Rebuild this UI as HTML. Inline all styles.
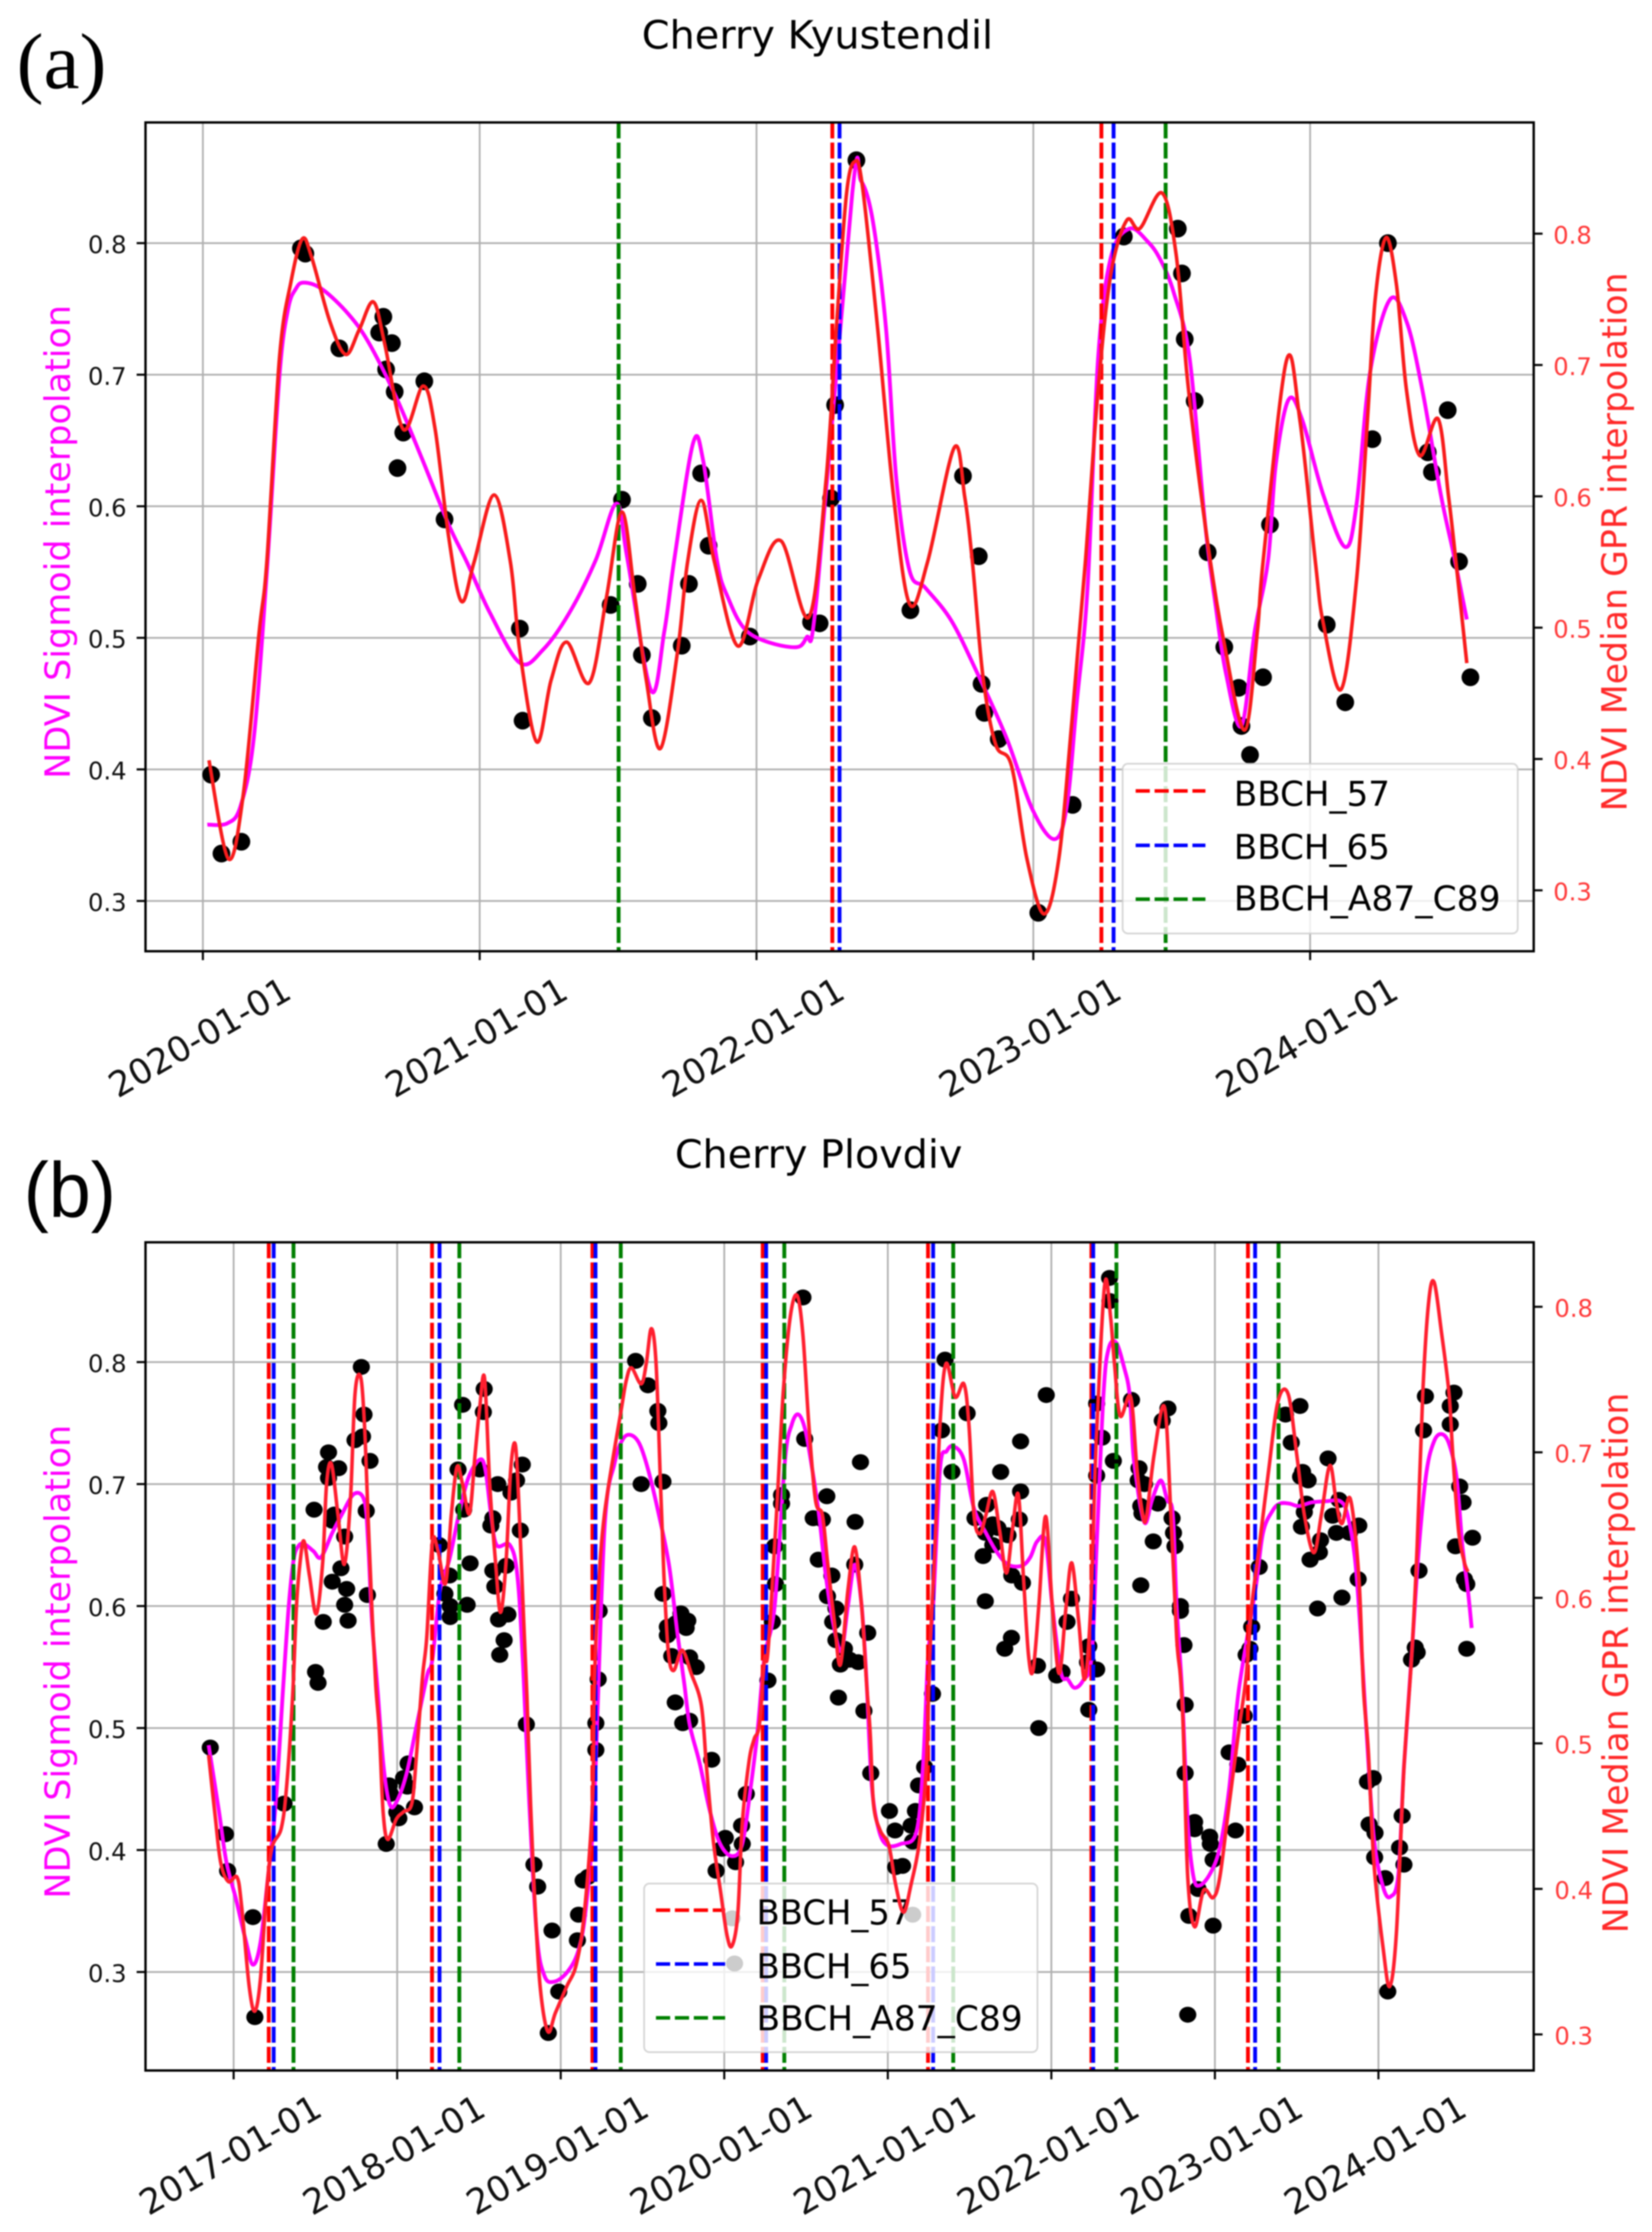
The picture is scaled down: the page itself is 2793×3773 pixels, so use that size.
<!DOCTYPE html>
<html lang="en">
<head>
<meta charset="utf-8">
<title>Cherry NDVI interpolation charts</title>
<style>
html,body{margin:0;padding:0;background:#fff;}
svg{display:block;}
text{font-family:"DejaVu Sans","Liberation Sans",sans-serif;}
</style>
</head>
<body>
<svg id="figure" xmlns="http://www.w3.org/2000/svg" width="2793" height="3773" viewBox="0 0 2793 3773" style="filter:blur(1px)">
  <rect x="0" y="0" width="2793" height="3773" fill="#fff"/>

  <g id="panelA">
    <g id="a-grid"></g>
    <g id="a-dots"></g>
    <g id="a-sigmoid"></g>
    <g id="a-vlines"></g>
    <g>
      <rect x="1898" y="1291" width="668" height="287" rx="9" fill="#fff" fill-opacity="0.8" stroke="#ccc" stroke-opacity="0.8" stroke-width="3"/>
      <line x1="1920" x2="2038" y1="1337" y2="1337" stroke="#f00" stroke-width="6" stroke-dasharray="24 8"/>
      <line x1="1920" x2="2038" y1="1429" y2="1429" stroke="#00f" stroke-width="6" stroke-dasharray="24 8"/>
      <line x1="1920" x2="2038" y1="1520" y2="1520" stroke="#008000" stroke-width="6" stroke-dasharray="24 8"/>
      <text x="2086" y="1362" font-size="58" textLength="264" lengthAdjust="spacingAndGlyphs">BBCH_57</text>
      <text x="2086" y="1452" font-size="58" textLength="264" lengthAdjust="spacingAndGlyphs">BBCH_65</text>
      <text x="2086" y="1539" font-size="58" textLength="451" lengthAdjust="spacingAndGlyphs">BBCH_A87_C89</text>
    </g>
    <g id="a-gpr"></g>
    <g id="a-axes"></g>
    <text x="1085" y="82" font-size="66" textLength="594" lengthAdjust="spacingAndGlyphs">Cherry Kyustendil</text>
    <text x="28" y="149" font-size="134" textLength="152" lengthAdjust="spacingAndGlyphs" style="font-family:'Liberation Serif',serif">(a)</text>
    <text transform="translate(118 916) rotate(-90)" text-anchor="middle" font-size="59" fill="#f0f" textLength="801" lengthAdjust="spacingAndGlyphs">NDVI Sigmoid interpolation</text>
    <text transform="translate(2750 916) rotate(-90)" text-anchor="middle" font-size="59" fill="#ff2a2a" textLength="911" lengthAdjust="spacingAndGlyphs">NDVI Median GPR interpolation</text>
  </g>

  <g id="panelB">
    <g id="b-grid"></g>
    <g id="b-dots"></g>
    <g id="b-sigmoid"></g>
    <g id="b-vlines"></g>
    <g>
      <rect x="1089" y="3184" width="665" height="285" rx="9" fill="#fff" fill-opacity="0.8" stroke="#ccc" stroke-opacity="0.8" stroke-width="3"/>
      <line x1="1109" x2="1226" y1="3229" y2="3229" stroke="#f00" stroke-width="6" stroke-dasharray="24 8"/>
      <line x1="1109" x2="1226" y1="3320" y2="3320" stroke="#00f" stroke-width="6" stroke-dasharray="24 8"/>
      <line x1="1109" x2="1226" y1="3411" y2="3411" stroke="#008000" stroke-width="6" stroke-dasharray="24 8"/>
      <text x="1279" y="3253" font-size="58" textLength="262" lengthAdjust="spacingAndGlyphs">BBCH_57</text>
      <text x="1279" y="3344" font-size="58" textLength="262" lengthAdjust="spacingAndGlyphs">BBCH_65</text>
      <text x="1279" y="3432" font-size="58" textLength="450" lengthAdjust="spacingAndGlyphs">BBCH_A87_C89</text>
    </g>
    <g id="b-gpr"></g>
    <g id="b-axes"></g>
    <text x="1141" y="1974" font-size="66" textLength="486" lengthAdjust="spacingAndGlyphs">Cherry Plovdiv</text>
    <text x="40" y="2057" font-size="132" textLength="156" lengthAdjust="spacingAndGlyphs" style="font-family:'Liberation Sans',sans-serif">(b)</text>
    <text transform="translate(118 2809) rotate(-90)" text-anchor="middle" font-size="59" fill="#f0f" textLength="801" lengthAdjust="spacingAndGlyphs">NDVI Sigmoid interpolation</text>
    <text transform="translate(2752 2811) rotate(-90)" text-anchor="middle" font-size="59" fill="#ff2a2a" textLength="914" lengthAdjust="spacingAndGlyphs">NDVI Median GPR interpolation</text>
  </g>
</svg>

<script>
// ---- shared tick values ----
const yTickValues = [0.3, 0.4, 0.5, 0.6, 0.7, 0.8];
const yTickLabels = ['0.3', '0.4', '0.5', '0.6', '0.7', '0.8'];

// ---- Panel A: Cherry Kyustendil (times are years since 2020-01-01) ----
const aXTickYears = [0, 1, 2, 3, 4];
const aXTickLabels = ['2020-01-01', '2021-01-01', '2022-01-01', '2023-01-01', '2024-01-01'];
const aBbch57 = [2.274, 3.246];
const aBbch65 = [2.30, 3.29];
const aBbchA87C89 = [1.502, 3.478];
const aDotTimes = [.03,.067,.139,.354,.37,.493,.637,.652,.683,.662,.693,.724,.703,.80,.873,1.145,1.155,1.473,1.514,1.571,1.586,1.622,1.73,1.756,1.80,1.827,1.976,2.197,2.228,2.269,2.284,2.361,2.556,2.746,2.803,2.813,2.823,2.875,3.018,3.142,3.327,3.522,3.537,3.547,3.583,3.63,3.69,3.742,3.752,3.783,3.83,3.855,4.06,4.127,4.225,4.281,4.425,4.44,4.497,4.538,4.579];
const aDotValues = [.396,.336,.345,.796,.792,.72,.732,.744,.724,.704,.687,.656,.629,.695,.59,.507,.437,.525,.605,.541,.487,.439,.494,.541,.625,.57,.501,.512,.511,.606,.677,.863,.521,.623,.562,.465,.443,.423,.291,.373,.805,.811,.777,.727,.68,.565,.493,.462,.433,.411,.47,.586,.51,.451,.651,.80,.641,.626,.673,.558,.47];
const aSigmoidTimes = [.016,.088,.136,.184,.231,.277,.308,.335,.364,.431,.526,.60,.698,.79,.888,.955,1.037,1.145,1.229,1.324,1.419,1.494,1.533,1.619,1.667,1.704,1.771,1.807,1.857,1.894,1.971,2.123,2.18,2.218,2.346,2.377,2.42,2.468,2.505,2.553,2.61,2.704,2.798,2.903,2.998,3.077,3.121,3.157,3.196,3.234,3.28,3.347,3.414,3.46,3.508,3.565,3.621,3.659,3.696,3.752,3.80,3.848,3.876,3.922,3.971,4.047,4.127,4.168,4.216,4.288,4.349,4.405,4.472,4.519,4.566];
const aSigmoidValues = [.358,.359,.372,.424,.55,.70,.75,.765,.77,.765,.746,.724,.683,.637,.586,.557,.519,.481,.491,.519,.559,.602,.561,.46,.505,.561,.648,.635,.559,.532,.504,.493,.50,.532,.838,.8475,.817,.735,.621,.551,.538,.513,.473,.424,.369,.347,.372,.451,.538,.712,.789,.811,.801,.787,.762,.712,.586,.524,.473,.433,.505,.559,.632,.681,.666,.609,.569,.602,.701,.757,.74,.689,.609,.563,.514];
const aGprTimes = [.022,.092,.146,.203,.231,.277,.318,.359,.393,.459,.516,.565,.616,.657,.724,.796,.839,.888,.934,.98,1.052,1.111,1.145,1.206,1.258,1.314,1.396,1.458,1.514,1.561,1.602,1.653,1.715,1.751,1.80,1.848,1.933,2.007,2.089,2.189,2.251,2.288,2.325,2.355,2.382,2.438,2.495,2.553,2.618,2.714,2.752,2.78,2.818,2.864,2.921,2.977,3.039,3.092,3.139,3.188,3.234,3.28,3.337,3.385,3.465,3.516,3.555,3.593,3.64,3.687,3.763,3.809,3.83,3.914,3.963,4.019,4.047,4.112,4.168,4.207,4.235,4.274,4.312,4.348,4.396,4.462,4.50,4.527,4.566];
const aGprValues = [.399,.324,.373,.496,.55,.706,.763,.796,.782,.733,.708,.727,.748,.716,.651,.684,.651,.569,.52,.55,.601,.55,.482,.413,.46,.489,.458,.523,.588,.523,.46,.408,.482,.55,.597,.55,.486,.537,.566,.508,.612,.727,.83,.855,.837,.727,.60,.518,.55,.637,.60,.55,.463,.411,.395,.324,.282,.324,.428,.55,.681,.769,.81,.804,.831,.784,.693,.623,.55,.491,.422,.496,.55,.703,.658,.55,.504,.453,.537,.658,.75,.797,.761,.681,.631,.659,.60,.55,.473];

// ---- Panel B: Cherry Plovdiv (times are years since 2017-01-01) ----
const bXTickYears = [0, 1, 2, 3, 4, 5, 6, 7];
const bXTickLabels = ['2017-01-01', '2018-01-01', '2019-01-01', '2020-01-01', '2021-01-01', '2022-01-01', '2023-01-01', '2024-01-01'];
const bBbch57 = [.215, 1.213, 2.194, 3.235, 4.246, 5.245, 6.202];
const bBbch65 = [.245, 1.259, 2.2125, 3.256, 4.277, 5.256, 6.246];
const bBbchA87C89 = [.366, 1.38, 2.367, 3.367, 4.40, 5.398, 6.389];
const bDotTimes = [.781,.797,.788,.742,.834,.58,.568,.642,.58,.492,.615,.603,.679,.811,.656,.603,.691,.679,.818,.548,.70,.501,.516,1.40,1.532,1.527,1.372,1.504,1.407,1.615,1.765,1.73,1.696,1.585,1.573,1.753,1.257,1.32,1.292,1.324,1.324,1.446,1.428,1.585,1.666,1.597,1.62,1.677,1.654,1.627,-.143,-.05,-.037,.118,.13,.308,.933,.951,.958,1.067,1.039,1.062,.998,1.01,1.106,1.79,1.836,1.859,1.947,1.988,1.924,2.109,2.102,2.137,2.167,2.215,2.215,2.229,2.235,2.458,2.533,2.594,2.60,2.492,2.625,2.625,2.735,2.777,2.652,2.663,2.704,2.767,2.652,2.679,2.788,2.829,2.70,2.746,2.788,2.923,3.135,3.106,3.11,3.006,2.985,3.069,2.95,3.048,3.063,4.152,3.308,3.313,3.294,3.267,3.35,3.35,3.481,3.492,3.627,3.833,3.80,3.544,3.60,3.575,3.798,3.658,3.631,3.683,3.663,3.683,3.877,3.735,3.71,3.819,3.767,3.698,3.854,3.896,4.01,4.169,4.044,4.142,4.152,4.225,4.188,4.09,4.048,4.273,4.35,4.329,4.485,4.392,4.812,4.969,4.69,4.812,4.604,4.533,4.642,4.673,4.596,4.804,4.735,4.642,4.583,4.758,4.823,4.596,4.756,4.715,4.915,5.123,5.096,5.033,5.065,4.923,5.229,5.221,5.277,5.229,5.356,5.358,5.277,5.31,5.379,5.277,5.49,5.713,5.678,5.536,5.531,5.57,5.651,5.547,5.554,5.738,5.747,5.756,5.623,5.547,5.789,5.789,5.811,5.818,5.818,5.876,5.876,5.968,5.972,5.989,5.897,5.841,5.989,5.834,6.087,6.14,6.126,6.225,6.214,6.191,6.271,6.179,6.432,6.52,6.467,6.692,6.536,6.524,6.57,6.759,6.559,6.547,6.72,6.88,6.529,6.743,6.823,6.646,6.639,6.582,6.876,6.777,6.628,7.287,7.462,7.439,7.276,7.439,7.497,7.517,7.575,7.471,7.526,7.54,7.54,7.248,7.225,7.237,7.202,6.968,6.933,6.943,6.979,6.977,7.041,7.057,7.145,7.129,7.156];
const bDotValues = [.796,.757,.739,.736,.719,.726,.714,.713,.705,.679,.675,.67,.657,.678,.631,.62,.614,.601,.609,.587,.588,.546,.537,.765,.778,.759,.712,.712,.679,.70,.716,.703,.693,.672,.666,.662,.65,.625,.61,.60,.591,.635,.601,.629,.633,.616,.589,.593,.572,.56,.484,.413,.383,.345,.263,.438,.405,.453,.446,.471,.459,.452,.431,.426,.435,.503,.388,.37,.334,.284,.25,.347,.326,.375,.378,.482,.504,.54,.596,.801,.781,.76,.75,.70,.702,.61,.594,.588,.583,.578,.586,.582,.576,.559,.558,.55,.521,.504,.506,.474,.446,.42,.405,.41,.401,.39,.383,.344,.307,.347,.649,.618,.587,.539,.691,.684,.853,.737,.69,.718,.669,.672,.671,.638,.634,.625,.608,.598,.587,.572,.578,.565,.552,.554,.556,.525,.514,.463,.432,.432,.416,.42,.407,.468,.453,.387,.386,.528,.802,.744,.758,.71,.735,.773,.71,.694,.683,.672,.667,.664,.66,.671,.658,.65,.641,.625,.619,.604,.574,.565,.551,.606,.587,.543,.546,.50,.567,.554,.548,.515,.869,.85,.766,.738,.719,.707,.769,.762,.752,.713,.703,.70,.684,.682,.676,.672,.66,.649,.653,.617,.60,.596,.568,.519,.463,.423,.417,.411,.405,.392,.368,.346,.338,.265,.48,.47,.416,.583,.565,.56,.632,.51,.757,.764,.734,.721,.71,.706,.703,.687,.684,.677,.674,.666,.665,.66,.66,.654,.644,.638,.622,.607,.598,.772,.775,.764,.744,.749,.698,.685,.656,.649,.622,.618,.565,.629,.566,.562,.556,.459,.456,.421,.414,.394,.377,.284,.428,.402,.388];
const bSigmoidTimes = [-.153,-.09,-.044,.014,.072,.118,.164,.21,.257,.303,.337,.367,.395,.43,.488,.534,.603,.661,.737,.80,.823,.846,.882,.917,.956,.998,1.056,1.113,1.183,1.215,1.262,1.319,1.377,1.435,1.504,1.539,1.574,1.608,1.689,1.735,1.77,1.808,1.854,1.90,1.958,2.04,2.109,2.155,2.204,2.267,2.329,2.381,2.433,2.485,2.538,2.60,2.663,2.715,2.756,2.788,2.85,2.912,2.975,3.048,3.11,3.163,3.204,3.246,3.308,3.371,3.413,3.454,3.496,3.538,3.579,3.621,3.663,3.715,3.756,3.798,3.84,3.871,3.902,3.944,3.996,4.079,4.173,4.215,4.246,4.277,4.319,4.36,4.402,4.465,4.527,4.60,4.663,4.735,4.819,4.871,4.913,4.965,5.006,5.058,5.10,5.142,5.194,5.246,5.277,5.319,5.35,5.396,5.444,5.478,5.501,5.524,5.547,5.577,5.616,5.669,5.708,5.743,5.766,5.80,5.834,5.869,5.908,5.972,6.03,6.087,6.145,6.248,6.294,6.352,6.398,6.455,6.513,6.593,6.685,6.766,6.811,6.857,6.892,6.926,6.972,7.03,7.076,7.122,7.156,7.202,7.248,7.294,7.34,7.386,7.432,7.478,7.513,7.547,7.57];
const bSigmoidValues = [.486,.432,.39,.36,.327,.306,.324,.378,.438,.534,.60,.638,.649,.651,.645,.64,.66,.675,.692,.686,.65,.588,.528,.468,.437,.44,.462,.498,.543,.556,.613,.638,.675,.705,.72,.712,.675,.65,.65,.625,.551,.438,.33,.297,.292,.30,.318,.354,.438,.662,.717,.737,.74,.732,.71,.675,.633,.576,.536,.503,.471,.432,.405,.395,.405,.453,.498,.558,.60,.719,.749,.757,.744,.712,.675,.625,.588,.563,.60,.634,.60,.536,.453,.417,.404,.405,.414,.468,.558,.60,.712,.727,.731,.72,.68,.66,.645,.634,.633,.64,.653,.653,.60,.546,.54,.533,.539,.558,.65,.774,.811,.816,.796,.774,.725,.70,.68,.668,.687,.703,.687,.675,.60,.528,.423,.378,.371,.381,.402,.45,.53,.614,.66,.678,.684,.684,.682,.685,.686,.686,.675,.638,.576,.50,.41,.369,.362,.38,.468,.558,.649,.71,.735,.741,.733,.705,.65,.613,.582];
const bGprTimes = [-.153,-.113,-.079,-.032,.021,.049,.095,.13,.164,.199,.234,.292,.326,.361,.384,.407,.43,.464,.506,.545,.568,.598,.638,.677,.714,.742,.776,.80,.822,.845,.869,.891,.914,.942,.995,1.039,1.09,1.12,1.155,1.181,1.215,1.25,1.296,1.331,1.366,1.40,1.442,1.476,1.504,1.534,1.566,1.601,1.632,1.666,1.694,1.723,1.747,1.77,1.793,1.816,1.84,1.874,1.921,1.968,2.037,2.095,2.144,2.194,2.204,2.225,2.267,2.371,2.402,2.433,2.492,2.523,2.554,2.583,2.61,2.631,2.658,2.69,2.742,2.798,2.86,2.892,2.933,2.975,3.017,3.048,3.083,3.11,3.152,3.183,3.215,3.246,3.267,3.319,3.36,3.402,3.444,3.48,3.517,3.558,3.60,3.631,3.673,3.71,3.756,3.798,3.84,3.871,3.892,3.913,3.954,4.006,4.048,4.096,4.142,4.194,4.235,4.256,4.288,4.319,4.356,4.412,4.465,4.496,4.527,4.563,4.60,4.642,4.683,4.725,4.762,4.798,4.829,4.86,4.888,4.923,4.965,5.006,5.048,5.09,5.125,5.167,5.204,5.241,5.271,5.306,5.333,5.363,5.386,5.421,5.485,5.524,5.559,5.582,5.628,5.692,5.731,5.766,5.789,5.807,5.834,5.876,5.931,5.989,6.03,6.087,6.145,6.191,6.225,6.271,6.329,6.386,6.448,6.501,6.547,6.605,6.651,6.703,6.743,6.777,6.828,6.88,6.908,6.938,6.972,7.03,7.069,7.11,7.156,7.202,7.237,7.271,7.306,7.34,7.386,7.432,7.455,7.49,7.524,7.547];
const bGprValues = [.492,.45,.418,.405,.408,.388,.333,.316,.338,.395,.428,.442,.473,.533,.594,.625,.639,.615,.589,.625,.678,.692,.657,.623,.667,.74,.752,.719,.656,.594,.54,.508,.453,.434,.448,.453,.459,.495,.546,.573,.638,.632,.61,.657,.69,.678,.658,.698,.73,.751,.678,.625,.59,.625,.688,.705,.657,.594,.533,.458,.395,.333,.302,.315,.333,.348,.383,.458,.533,.594,.657,.73,.75,.758,.747,.761,.785,.761,.678,.615,.563,.55,.564,.548,.526,.483,.433,.40,.368,.361,.383,.445,.488,.503,.513,.558,.563,.657,.74,.792,.808,.782,.719,.667,.657,.625,.584,.554,.605,.635,.594,.54,.508,.458,.44,.43,.403,.384,.403,.433,.483,.558,.635,.719,.761,.738,.747,.719,.657,.644,.657,.673,.647,.617,.647,.671,.615,.561,.55,.594,.656,.594,.548,.594,.624,.584,.544,.594,.698,.782,.819,.792,.761,.725,.738,.688,.657,.656,.698,.731,.657,.573,.546,.508,.408,.374,.399,.394,.408,.458,.508,.546,.594,.635,.688,.735,.74,.698,.657,.631,.657,.691,.665,.651,.668,.615,.538,.495,.418,.358,.333,.37,.483,.558,.636,.74,.802,.817,.782,.74,.698,.646,.625,.618];

// ---- axis functions ----
const axA = {
  left: 246, right: 2593, top: 207, bottom: 1608,
  x: t => 343 + t * 468,
  yLeft: v => 411 + (0.8 - v) * 2224,
  yRight: v => 395 + (0.8 - v) * 2220,
  xLabelDrop: 145, xLabelShift: -6, rightLabelX: 2626
};
const axB = {
  left: 246, right: 2593, top: 2100, bottom: 3500,
  x: t => 395 + t * 276.5,
  yLeft: v => 2302.5 + (0.8 - v) * 2062,
  yRight: v => 2209 + (0.8 - v) * 2460,
  xLabelDrop: 142, xLabelShift: -6, rightLabelX: 2628
};

const NS = 'http://www.w3.org/2000/svg';
function make(tag, attrs, parent) {
  const node = document.createElementNS(NS, tag);
  for (const key in attrs) node.setAttribute(key, attrs[key]);
  parent.appendChild(node);
  return node;
}

function smoothPath(times, values, xFn, yFn) {
  const pts = times.map((t, i) => [xFn(t), yFn(values[i])]);
  let d = 'M' + pts[0][0].toFixed(1) + ' ' + pts[0][1].toFixed(1);
  for (let i = 0; i < pts.length - 1; i++) {
    const p0 = pts[Math.max(0, i - 1)], p1 = pts[i], p2 = pts[i + 1], p3 = pts[Math.min(pts.length - 1, i + 2)];
    const c1x = p1[0] + (p2[0] - p0[0]) / 6, c1y = p1[1] + (p2[1] - p0[1]) / 6;
    const c2x = p2[0] - (p3[0] - p1[0]) / 6, c2y = p2[1] - (p3[1] - p1[1]) / 6;
    d += 'C' + c1x.toFixed(1) + ' ' + c1y.toFixed(1) + ' ' + c2x.toFixed(1) + ' ' + c2y.toFixed(1) + ' ' + p2[0].toFixed(1) + ' ' + p2[1].toFixed(1);
  }
  return d;
}

function drawGridAndAxes(prefix, ax, xTicks, xLabels) {
  const grid = document.getElementById(prefix + '-grid');
  const axes = document.getElementById(prefix + '-axes');
  xTicks.forEach((t, i) => {
    const gl = make('line', {x1: ax.x(t), x2: ax.x(t), y1: ax.top, y2: ax.bottom, stroke: '#b0b0b0', 'stroke-width': 3}, grid);
    
    
    const tick = make('line', {x1: ax.x(t), x2: ax.x(t), y1: ax.bottom, y2: ax.bottom + 15, stroke: '#000', 'stroke-width': 3.5}, axes);
    
    
    const label = make('text', {transform: 'translate(' + (ax.x(t) + ax.xLabelShift) + ' ' + (ax.bottom + ax.xLabelDrop) + ') rotate(-30)', 'text-anchor': 'middle', dy: '0.36em', 'font-size': 59, fill: '#111'}, axes);
    
    
    label.textContent = xLabels[i];
  });
  yTickValues.forEach((v, i) => {
    const gl = make('line', {x1: ax.left, x2: ax.right, y1: ax.yLeft(v), y2: ax.yLeft(v), stroke: '#b0b0b0', 'stroke-width': 3}, grid);
    
    
    const tl = make('line', {x1: ax.left - 15, x2: ax.left, y1: ax.yLeft(v), y2: ax.yLeft(v), stroke: '#000', 'stroke-width': 3.5}, axes);
    
    
    const ll = make('text', {x: 214, y: ax.yLeft(v) + 17, 'text-anchor': 'end', 'font-size': 41, fill: '#111'}, axes);
    
    
    ll.textContent = yTickLabels[i];
    const tr = make('line', {x1: ax.right, x2: ax.right + 15, y1: ax.yRight(v), y2: ax.yRight(v), stroke: '#000', 'stroke-width': 3.5}, axes);
    
    
    const rl = make('text', {x: ax.rightLabelX, y: ax.yRight(v) + 17, 'font-size': 41, fill: '#ff3a3a'}, axes);
    
    
    rl.textContent = yTickLabels[i];
  });
  const frame = make('rect', {x: ax.left, y: ax.top, width: ax.right - ax.left, height: ax.bottom - ax.top, fill: 'none', stroke: '#000', 'stroke-width': 4}, axes);
  
  
}

function drawDots(prefix, ax, times, values, rx, ry) {
  const group = document.getElementById(prefix + '-dots');
  times.forEach((t, i) => {
    const dot = make('ellipse', {cx: ax.x(t).toFixed(1), cy: ax.yLeft(values[i]).toFixed(1), rx: rx, ry: ry, fill: '#000'}, group);
    
    
  });
}

function drawVLines(prefix, ax, times, color) {
  const group = document.getElementById(prefix + '-vlines');
  times.forEach(t => {
    const vline = make('line', {x1: ax.x(t).toFixed(1), x2: ax.x(t).toFixed(1), y1: ax.top, y2: ax.bottom, stroke: color, 'stroke-width': 6.5, 'stroke-dasharray': '27 7'}, group);
    
    
  });
}

function drawCurves(prefix, ax, sigT, sigV, gprT, gprV, gprColor) {
  const sig = make('path', {d: smoothPath(sigT, sigV, ax.x, ax.yLeft), fill: 'none', stroke: '#f0f', 'stroke-width': 6.5, 'stroke-linejoin': 'round'}, document.getElementById(prefix + '-sigmoid'));
  
  
  const gpr = make('path', {d: smoothPath(gprT, gprV, ax.x, ax.yRight), fill: 'none', stroke: gprColor, 'stroke-width': 6, 'stroke-linejoin': 'round'}, document.getElementById(prefix + '-gpr'));
  
  
}

drawGridAndAxes('a', axA, aXTickYears, aXTickLabels);
drawDots('a', axA, aDotTimes, aDotValues, 15, 15);
drawCurves('a', axA, aSigmoidTimes, aSigmoidValues, aGprTimes, aGprValues, '#f81c1c');
drawVLines('a', axA, aBbchA87C89, '#008000');
drawVLines('a', axA, aBbch57, '#f00');
drawVLines('a', axA, aBbch65, '#00f');

drawGridAndAxes('b', axB, bXTickYears, bXTickLabels);
drawDots('b', axB, bDotTimes, bDotValues, 14.5, 13.5);
drawCurves('b', axB, bSigmoidTimes, bSigmoidValues, bGprTimes, bGprValues, '#ff1f2f');
drawVLines('b', axB, bBbchA87C89, '#008000');
drawVLines('b', axB, bBbch57, '#f00');
drawVLines('b', axB, bBbch65, '#00f');
</script>
</body>
</html>
